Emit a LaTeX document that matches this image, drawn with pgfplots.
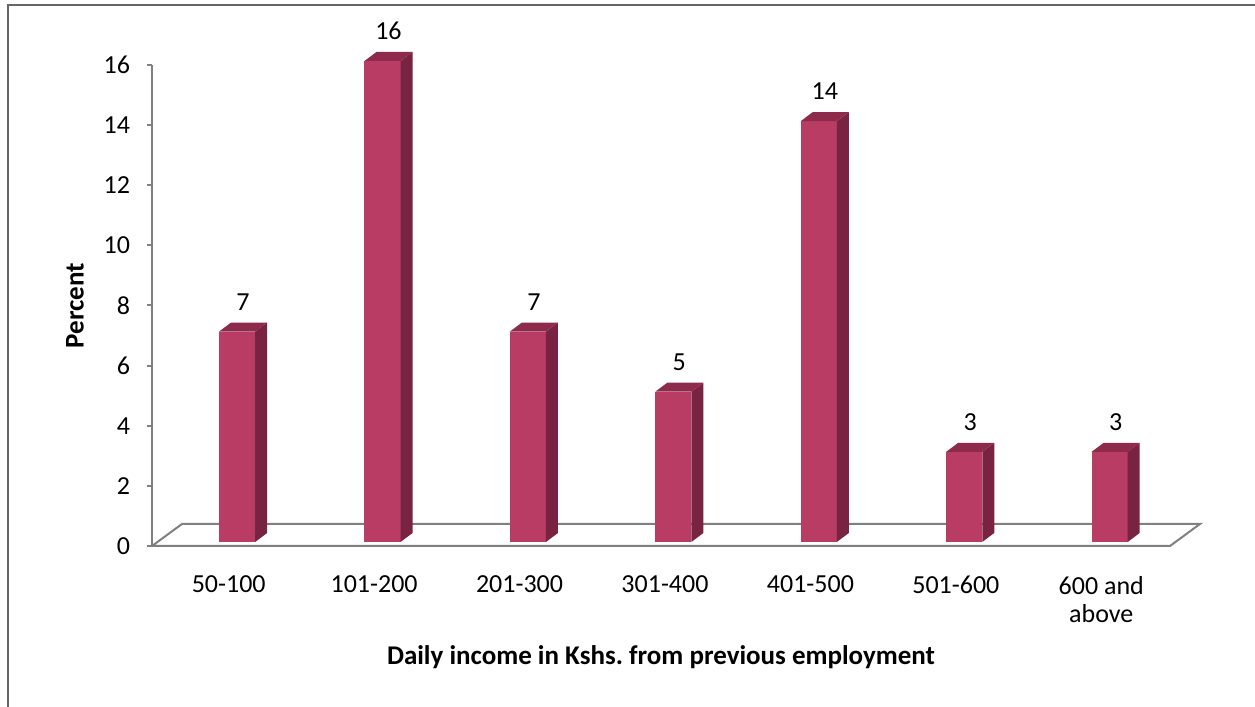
\documentclass[border=0pt]{standalone}
\usepackage{pgfplots}
\pgfplotsset{compat=1.18}
\usepackage{pgfplotstable}
\usepackage{fontspec}
\setmainfont{Carlito}
\frenchspacing
\definecolor{barfront}{HTML}{B83C64}
\definecolor{barside}{HTML}{782341}
\definecolor{bartop}{HTML}{8E2B4D}
\definecolor{axgray}{HTML}{808080}
\definecolor{framegray}{HTML}{666666}

\pgfplotstableread{
x v
0 7
1 16
2 7
3 5
4 14
5 3
6 3
}\incomedata

% 3D bar: index, value
\newcommand{\tdbar}[2]{%
  \pgfmathsetmacro{\fl}{#1-0.039}%
  \pgfmathsetmacro{\fr}{#1+0.209}%
  \pgfmathsetmacro{\flb}{#1-0.039+0.0825}%
  \pgfmathsetmacro{\frb}{#1+0.209+0.0825}%
  \pgfmathsetmacro{\tt}{#2+0.133}%
  \pgfmathsetmacro{\ttb}{#2+0.133+0.3}%
  \addplot[fill=barfront, draw=none, forget plot] coordinates {(\fl,0.133) (\fr,0.133) (\fr,\tt) (\fl,\tt)};
  \addplot[fill=barside, draw=none, forget plot] coordinates {(\fr,0.133) (\frb,0.433) (\frb,\ttb) (\fr,\tt)};
  \addplot[fill=bartop, draw=none, forget plot] coordinates {(\fl,\tt) (\flb,\ttb) (\frb,\ttb) (\fr,\tt)};
}

\begin{document}
\fontsize{13}{15.6}\selectfont
\begin{tikzpicture}
\path[use as bounding box] (0,0) rectangle (627.5pt,353.5pt);
\draw[framegray, line width=1pt] (4pt,0) -- (4pt,351pt) -- (627.5pt,351pt);
\begin{axis}[
  at={(76pt,80.5pt)}, anchor=south west,
  scale only axis, width=509pt, height=240.5pt,
  xmin=-0.5, xmax=6.5, ymin=0, ymax=16,
  clip=false,
  axis x line=none,
  axis y line*=left,
  y axis line style={axgray, line width=1pt, -},
  ytick={0,2,...,16},
  ytick style={axgray, line width=1pt},
  tick align=outside,
  major tick length=2.5pt,
  yticklabel style={font=\fontsize{13}{15.6}\selectfont, anchor=east, xshift=-4pt},
  /pgf/number format/assume math mode=true,
  ylabel={\textbf{Percent}},
  ylabel style={at={([xshift=-38.5pt]axis description cs:0,0.5)}, anchor=center, font=\fontsize{13.5}{16}\selectfont},
]
% floor
\addplot[draw=axgray, line width=1pt, fill=white, forget plot] coordinates {(-0.5,0) (-0.294,0.732) (6.706,0.732) (6.5,0) (-0.5,0)};
\tdbar{0}{7}
\tdbar{1}{16}
\tdbar{2}{7}
\tdbar{3}{5}
\tdbar{4}{14}
\tdbar{5}{3}
\tdbar{6}{3}
% value labels
\addplot[draw=none, mark=none, nodes near coords, point meta=explicit,
  nodes near coords style={anchor=south, font=\fontsize{13}{15.6}\selectfont, inner sep=2pt, yshift=4pt}]
  table[x expr=\thisrow{x}+0.126, y expr=\thisrow{v}+0.433, meta=v] {\incomedata};
\end{axis}
\begin{axis}[
  at={(76pt,80.5pt)}, anchor=south west,
  scale only axis, width=509pt, height=240.5pt,
  xmin=-0.5, xmax=6.5, ymin=0, ymax=16,
  hide y axis, axis x line*=bottom, x axis line style={draw=none},
  xtick={0,...,6}, major tick length=0pt,
  xticklabels={50-100,101-200,201-300,301-400,401-500,501-600,{600 and\\above}},
  xticklabel style={align=center, anchor=north, yshift=-10.5pt, xshift=2pt, font=\fontsize{13}{14}\selectfont},
  xlabel={\textbf{Daily income in Kshs. from previous employment}},
  xlabel style={at={([yshift=-55.5pt]axis description cs:0.5,0)}, anchor=center, font=\fontsize{13.5}{16}\selectfont},
]
\end{axis}
\end{tikzpicture}
\end{document}
